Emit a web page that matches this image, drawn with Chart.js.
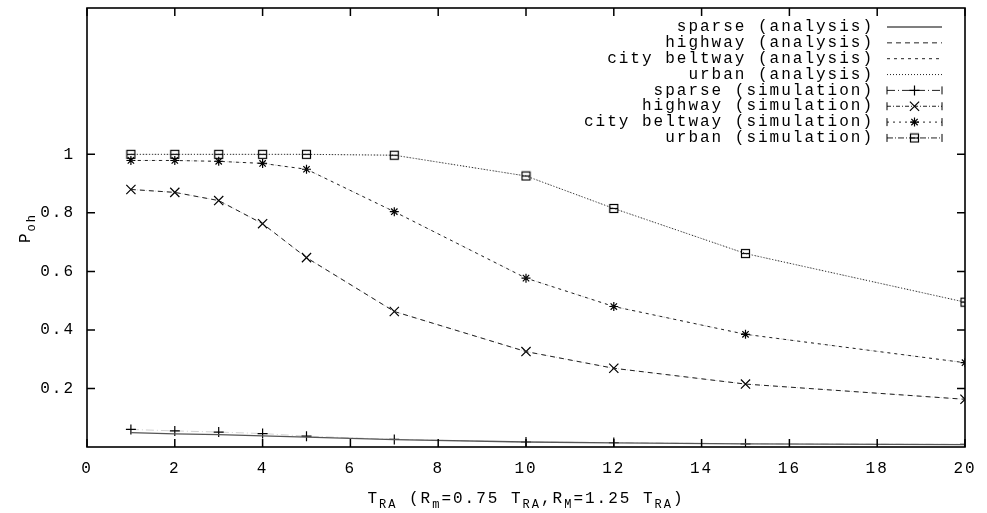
<!DOCTYPE html>
<html>
<head>
<meta charset="utf-8">
<script src="https://cdn.jsdelivr.net/npm/chart.js@4/dist/chart.umd.min.js"></script>
<style>
  html, body { margin: 0; background: #fff; }
  #wrap { width: 987px; height: 513px; }
</style>
</head>
<body>
<div id="wrap"><canvas id="myChart"></canvas></div>
<script>
// T_RA values where the curves were computed / simulated
const xValues = [1, 2, 3, 4, 5, 7, 10, 12, 15, 20];

const sparseAnalysis   = [0.049, 0.045, 0.042, 0.038, 0.034, 0.025, 0.017, 0.014, 0.011, 0.008];
const highwayAnalysis  = [0.880, 0.870, 0.842, 0.763, 0.647, 0.463, 0.326, 0.269, 0.215, 0.163];
const beltwayAnalysis  = [0.979, 0.979, 0.976, 0.969, 0.949, 0.804, 0.577, 0.480, 0.385, 0.288];
const urbanAnalysis    = [1.000, 1.000, 1.000, 1.000, 1.000, 0.997, 0.926, 0.815, 0.661, 0.495];

const sparseSim   = [0.060, 0.055, 0.051, 0.046, 0.037, 0.026, 0.017, 0.015, 0.011, 0.009];
const highwaySim  = [0.880, 0.870, 0.842, 0.763, 0.647, 0.463, 0.326, 0.269, 0.215, 0.163];
const beltwaySim  = [0.979, 0.979, 0.976, 0.969, 0.949, 0.804, 0.577, 0.480, 0.385, 0.288];
const urbanSim    = [1.000, 1.000, 1.000, 1.000, 1.000, 0.997, 0.926, 0.815, 0.661, 0.495];

const xTicks = [0, 2, 4, 6, 8, 10, 12, 14, 16, 18, 20];
const yTicks = [0.2, 0.4, 0.6, 0.8, 1];

const mono = '"Liberation Mono", "Courier New", monospace';
const spacing = '2px';

// square-with-bar marker used for the urban simulation
const boxMark = document.createElement('canvas');
boxMark.width = 11; boxMark.height = 11;
const bctx = boxMark.getContext('2d');
bctx.strokeStyle = '#000';
bctx.lineWidth = 1.2;
bctx.strokeRect(1.5, 1.5, 8, 8);
bctx.beginPath();
bctx.moveTo(1.5, 5.5);
bctx.lineTo(9.5, 5.5);
bctx.stroke();

function series(label, values, opts) {
  return Object.assign({
    label,
    data: values.map((v, i) => ({x: xValues[i], y: v})),
    borderColor: '#222',
    borderWidth: 1,
    pointRadius: 0,
    fill: false,
    tension: 0,
    sim: false
  }, opts);
}

const datasets = [
  series('sparse (analysis)', sparseAnalysis, {borderColor: '#555', borderWidth: 1.3}),
  series('highway (analysis)', highwayAnalysis, {borderDash: [5, 4]}),
  series('city beltway (analysis)', beltwayAnalysis, {borderDash: [3, 4]}),
  series('urban (analysis)', urbanAnalysis, {borderDash: [1, 2]}),
  series('sparse (simulation)', sparseSim, {sim: true, borderDash: [8, 3, 1, 3], pointStyle: 'cross', pointRadius: 5}),
  series('highway (simulation)', highwaySim, {sim: true, borderDash: [4, 2, 1, 2], pointStyle: 'crossRot', pointRadius: 6.5}),
  series('city beltway (simulation)', beltwaySim, {sim: true, borderDash: [2, 4], pointStyle: 'star', pointRadius: 4.5}),
  series('urban (simulation)', urbanSim, {sim: true, borderDash: [6, 2, 1, 2], pointStyle: boxMark, pointRadius: 5})
];
datasets.forEach(d => {
  d.pointBorderColor = '#000';
  d.pointBorderWidth = 1.2;
  d.pointBackgroundColor = 'rgba(0,0,0,0)';
  // simulation lines sit under the analysis curves; keep them faint in the plot
  if (d.sim) d.segment = {borderColor: 'rgba(0,0,0,0.18)'};
});

const spacingPlugin = {
  id: 'spacing',
  beforeLayout(chart) { chart.ctx.letterSpacing = spacing; },
  beforeDraw(chart) { chart.ctx.letterSpacing = spacing; }
};

const framePlugin = {
  id: 'frame',
  afterDraw(chart) {
    const {ctx, chartArea: a, scales: {x, y}} = chart;
    ctx.save();
    ctx.strokeStyle = '#000';
    ctx.lineWidth = 1.5;
    ctx.beginPath();
    xTicks.forEach(v => {
      const px = x.getPixelForValue(v);
      ctx.moveTo(px, a.bottom); ctx.lineTo(px, a.bottom - 8);
      ctx.moveTo(px, a.top); ctx.lineTo(px, a.top + 8);
    });
    yTicks.forEach(v => {
      const py = y.getPixelForValue(v);
      ctx.moveTo(a.left, py); ctx.lineTo(a.left + 8, py);
      ctx.moveTo(a.right, py); ctx.lineTo(a.right - 8, py);
    });
    ctx.stroke();
    ctx.lineWidth = 1.6;
    ctx.strokeRect(a.left, a.top, a.right - a.left, a.bottom - a.top);
    ctx.restore();
  }
};

// text with subscripts: runs of [text, isSub]
function drawRuns(ctx, runs, x, y) {
  const big = '16px ' + mono, small = '12px ' + mono;
  let w = 0;
  runs.forEach(([t, sub]) => { ctx.font = sub ? small : big; w += ctx.measureText(t).width; });
  let cx = x - w / 2;
  runs.forEach(([t, sub]) => {
    ctx.font = sub ? small : big;
    ctx.fillText(t, cx, sub ? y + 5 : y);
    cx += ctx.measureText(t).width;
  });
}

const titlePlugin = {
  id: 'axisTitles',
  afterDraw(chart) {
    const ctx = chart.ctx;
    ctx.save();
    ctx.fillStyle = '#000';
    ctx.textAlign = 'left';
    ctx.textBaseline = 'alphabetic';
    drawRuns(ctx, [['T'], ['RA', 1], [' (R'], ['m', 1], ['=0.75 T'], ['RA', 1],
                   [',R'], ['M', 1], ['=1.25 T'], ['RA', 1], [')']], 526, 503);
    ctx.translate(30, 228);
    ctx.rotate(-Math.PI / 2);
    drawRuns(ctx, [['P'], ['oh', 1]], 0, 0);
    ctx.restore();
  }
};

const legendPlugin = {
  id: 'keyBox',
  afterDraw(chart) {
    const ctx = chart.ctx;
    const x0 = 887, x1 = 942;
    ctx.save();
    ctx.font = '16px ' + mono;
    ctx.textAlign = 'right';
    ctx.textBaseline = 'middle';
    chart.data.datasets.forEach((ds, i) => {
      const yy = 27 + i * 15.85;
      ctx.fillStyle = '#000';
      ctx.fillText(ds.label, 874, yy);
      ctx.strokeStyle = ds.borderColor;
      ctx.lineWidth = ds.borderWidth;
      ctx.setLineDash(ds.borderDash || []);
      ctx.beginPath();
      ctx.moveTo(x0, yy); ctx.lineTo(x1, yy);
      ctx.stroke();
      ctx.setLineDash([]);
      if (ds.sim) {
        ctx.strokeStyle = '#000';
        ctx.beginPath();
        ctx.moveTo(x0, yy - 4); ctx.lineTo(x0, yy + 4);
        ctx.moveTo(x1, yy - 4); ctx.lineTo(x1, yy + 4);
        ctx.stroke();
        ctx.lineWidth = 1.2;
        ctx.fillStyle = 'rgba(0,0,0,0)';
        Chart.helpers.drawPoint(ctx, {pointStyle: ds.pointStyle, radius: ds.pointRadius, rotation: 0, borderWidth: 1.2}, (x0 + x1) / 2, yy);
      }
    });
    ctx.restore();
  }
};

new Chart(document.getElementById('myChart'), {
  type: 'line',
  data: {datasets},
  options: {
    responsive: true,
    maintainAspectRatio: false,
    animation: false,
    layout: {padding: {top: 8, right: 22, left: 0, bottom: 0}},
    plugins: {legend: {display: false}, tooltip: {enabled: false}},
    scales: {
      x: {
        type: 'linear',
        min: 0,
        max: 20,
        afterBuildTicks: s => { s.ticks = xTicks.map(v => ({value: v})); },
        afterFit: s => { s.height = 66; s.paddingLeft = 0; s.paddingRight = 0; },
        grid: {display: false, drawTicks: false},
        border: {display: false},
        ticks: {color: '#000', padding: 12, font: {family: mono, size: 16}, maxRotation: 0,
                callback: v => String(v)}
      },
      y: {
        type: 'linear',
        min: 0,
        max: 1.5,
        afterBuildTicks: s => { s.ticks = yTicks.map(v => ({value: v})); },
        afterFit: s => { s.width = 87; s.paddingTop = 0; s.paddingBottom = 0; },
        grid: {display: false, drawTicks: false},
        border: {display: false},
        ticks: {color: '#000', padding: 12, font: {family: mono, size: 16},
                callback: v => String(+v.toFixed(1))}
      }
    }
  },
  plugins: [spacingPlugin, framePlugin, titlePlugin, legendPlugin]
});
</script>
</body>
</html>
